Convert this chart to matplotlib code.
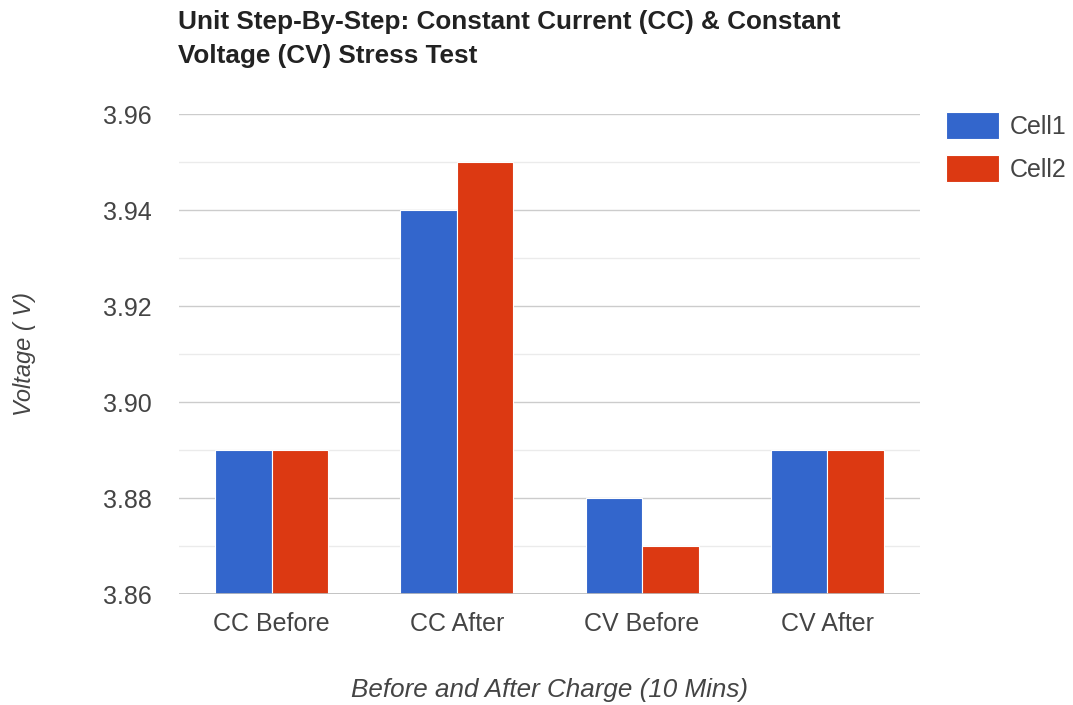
import matplotlib
matplotlib.use('Agg')
from matplotlib import pyplot as plt
import numpy as np

TITLE = 'Unit Step-By-Step: Constant Current (CC) & Constant\nVoltage (CV) Stress Test'
XLABEL = 'Before and After Charge (10 Mins)'
YLABEL = 'Voltage ( V)'
BLUE = '#3366CC'
RED = '#DC3912'
TEXT = '#444444'

categories = ['CC Before', 'CC After', 'CV Before', 'CV After']
cell1 = [3.89, 3.94, 3.88, 3.89]
cell2 = [3.89, 3.95, 3.87, 3.89]
yticks = [3.86, 3.88, 3.90, 3.92, 3.94, 3.96]

plt.rcParams['font.family'] = ['Liberation Sans', 'DejaVu Sans']

fig = plt.figure(figsize=(10.73, 7.05), dpi=100)
ax = fig.add_axes([179 / 1073, 1 - 594 / 705, 741 / 1073, 480 / 705])

x = np.arange(len(categories))
width = 0.305
ax.bar(x - width / 2, np.array(cell1) - 3.86, width, bottom=3.86, color=BLUE,
       edgecolor='white', linewidth=0.8, label='Cell1', zorder=3)
ax.bar(x + width / 2, np.array(cell2) - 3.86, width, bottom=3.86, color=RED,
       edgecolor='white', linewidth=0.8, label='Cell2', zorder=3)

ax.set_xlim(-0.5, len(categories) - 0.5)
ax.set_ylim(3.86, 3.96)
ax.set_xticks(x)
ax.set_xticklabels(categories)
ax.set_yticks(yticks)
ax.set_yticklabels(['%.2f' % v for v in yticks])
ax.set_yticks(np.arange(3.87, 3.96, 0.02), minor=True)

ax.grid(True, axis='y', which='major', color='#cccccc', linewidth=1.0, zorder=0)
ax.grid(True, axis='y', which='minor', color='#ebebeb', linewidth=1.0, zorder=0)
ax.axhline(3.86, color='#bbbbbb', linewidth=1.2, zorder=4)

for side in ['top', 'right', 'left', 'bottom']:
    ax.spines[side].set_visible(False)
ax.tick_params(axis='both', which='both', length=0, labelsize=18, labelcolor=TEXT)
ax.tick_params(axis='y', pad=19.5)
ax.tick_params(axis='x', pad=13)

ax.set_xlabel(XLABEL, fontsize=18.7, style='italic', color=TEXT, labelpad=30)
ax.set_ylabel(YLABEL, fontsize=17, style='italic', color=TEXT, labelpad=48.5)

fig.text(178 / 1073, 1 - 10 / 705, TITLE, fontsize=18.8, fontweight='bold',
         color='#222222', va='top', ha='left', linespacing=1.52)

fig.legend(loc='upper left', bbox_to_anchor=(946 / 1073, 1 - 112 / 705),
           frameon=False, fontsize=18, handlelength=2.1, handleheight=1.3,
           handletextpad=0.45, labelspacing=0.62, borderpad=0, borderaxespad=0,
           labelcolor=TEXT)

plt.savefig('out.png', dpi=100)
